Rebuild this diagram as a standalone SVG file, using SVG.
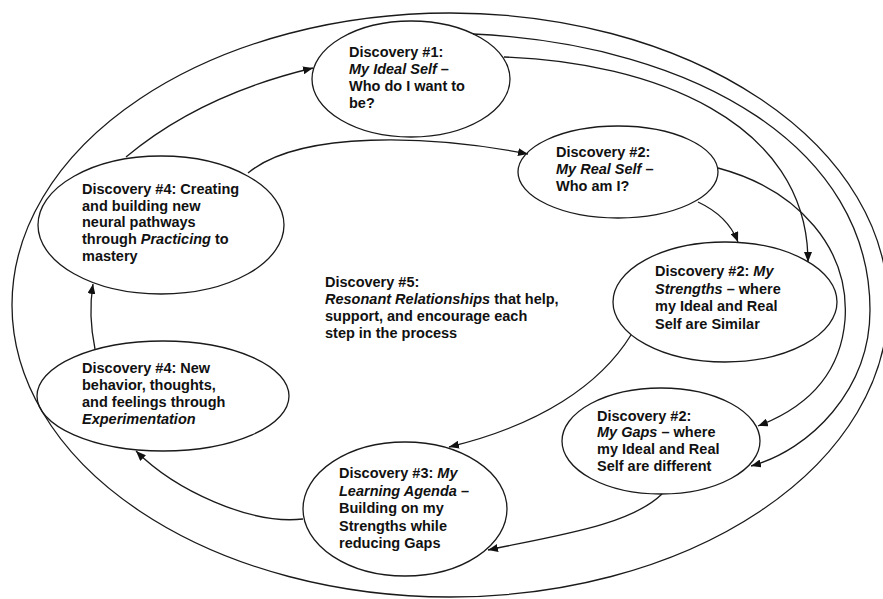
<svg xmlns="http://www.w3.org/2000/svg" width="883" height="599" viewBox="0 0 883 599">
<defs>
<style>
.n{fill:none;stroke:#1a1a1a;stroke-width:1.3}
.c{fill:none;stroke:#1a1a1a;stroke-width:1.3}
.a{marker-end:url(#ah)}
text{font-family:"Liberation Sans",Arial,sans-serif;font-size:14.5px;font-weight:bold;fill:#111}
.i{font-style:italic}
</style>
<marker id="ah" viewBox="0 0 10 8" refX="10" refY="4" markerWidth="10" markerHeight="8" orient="auto" markerUnits="userSpaceOnUse">
<path d="M0,0 L10,4 L0,8 z" fill="#111"/>
</marker>
</defs>
<rect width="883" height="599" fill="#fff"/>
<g id="outer">
<ellipse class="n" cx="450" cy="305" rx="438" ry="292"/>
</g>
<g id="connectors">
<path class="c a" d="M126,157 Q 200,95 313,68"/>
<path class="c a" d="M248,173 C 300,130 430,135 528,154"/>
<path class="c a" d="M698,202 Q 728,216 738,242"/>
<path class="c a" d="M504,57 C 650,62 808,120 808,262"/>
<path class="c a" d="M473,34 C 700,45 870,150 870,310 C 870,390 810,450 751,466"/>
<path class="c a" d="M718,168 C 800,190 850,250 845,320 C 840,380 800,410 758,426"/>
<path class="c a" d="M631,335 C 600,385 540,425 449,447"/>
<path class="c a" d="M662,494 C 630,525 560,535 488,550"/>
<path class="c a" d="M303,519 C 250,525 175,490 136,451"/>
<path class="c a" d="M95,349 Q 88,315 93,284"/>
</g>
<g id="d1">
<ellipse class="n" cx="411" cy="79" rx="99" ry="58"/>
<text x="349" y="57">Discovery #1:</text>
<text x="349" y="74"><tspan class="i">My Ideal Self</tspan> –</text>
<text x="349" y="91">Who do I want to</text>
<text x="349" y="108">be?</text>
</g>
<g id="d2real">
<ellipse class="n" cx="618" cy="172" rx="100" ry="46"/>
<text x="556" y="157">Discovery #2:</text>
<text x="556" y="174"><tspan class="i">My Real Self</tspan> –</text>
<text x="556" y="191">Who am I?</text>
</g>
<g id="d4practice">
<ellipse class="n" cx="161" cy="225" rx="123" ry="69"/>
<text x="82" y="194">Discovery #4: Creating</text>
<text x="82" y="211">and building new</text>
<text x="82" y="227">neural pathways</text>
<text x="82" y="244">through <tspan class="i">Practicing</tspan> to</text>
<text x="82" y="261">mastery</text>
</g>
<g id="d5">
<text x="325" y="287">Discovery #5:</text>
<text x="325" y="304"><tspan class="i">Resonant Relationships</tspan> that help,</text>
<text x="325" y="321">support, and encourage each</text>
<text x="325" y="338">step in the process</text>
</g>
<g id="d2strengths">
<ellipse class="n" cx="725" cy="302" rx="112" ry="60"/>
<text x="655" y="276">Discovery #2: <tspan class="i">My</tspan></text>
<text x="655" y="293.5"><tspan class="i">Strengths</tspan> – where</text>
<text x="655" y="311">my Ideal and Real</text>
<text x="655" y="328.5">Self are Similar</text>
</g>
<g id="d4experiment">
<ellipse class="n" cx="163" cy="396" rx="126" ry="55"/>
<text x="82" y="373">Discovery #4: New</text>
<text x="82" y="390">behavior, thoughts,</text>
<text x="82" y="407">and feelings through</text>
<text x="82" y="424" class="i">Experimentation</text>
</g>
<g id="d2gaps">
<ellipse class="n" cx="661" cy="441" rx="99" ry="53"/>
<text x="597" y="420.5">Discovery #2:</text>
<text x="597" y="437"><tspan class="i">My Gaps</tspan> – where</text>
<text x="597" y="454">my Ideal and Real</text>
<text x="597" y="471">Self are different</text>
</g>
<g id="d3">
<ellipse class="n" cx="405" cy="509" rx="102" ry="67"/>
<text x="339" y="478">Discovery #3: <tspan class="i">My</tspan></text>
<text x="339" y="496"><tspan class="i">Learning Agenda</tspan> –</text>
<text x="339" y="513">Building on my</text>
<text x="339" y="531">Strengths while</text>
<text x="339" y="548">reducing Gaps</text>
</g>
</svg>
